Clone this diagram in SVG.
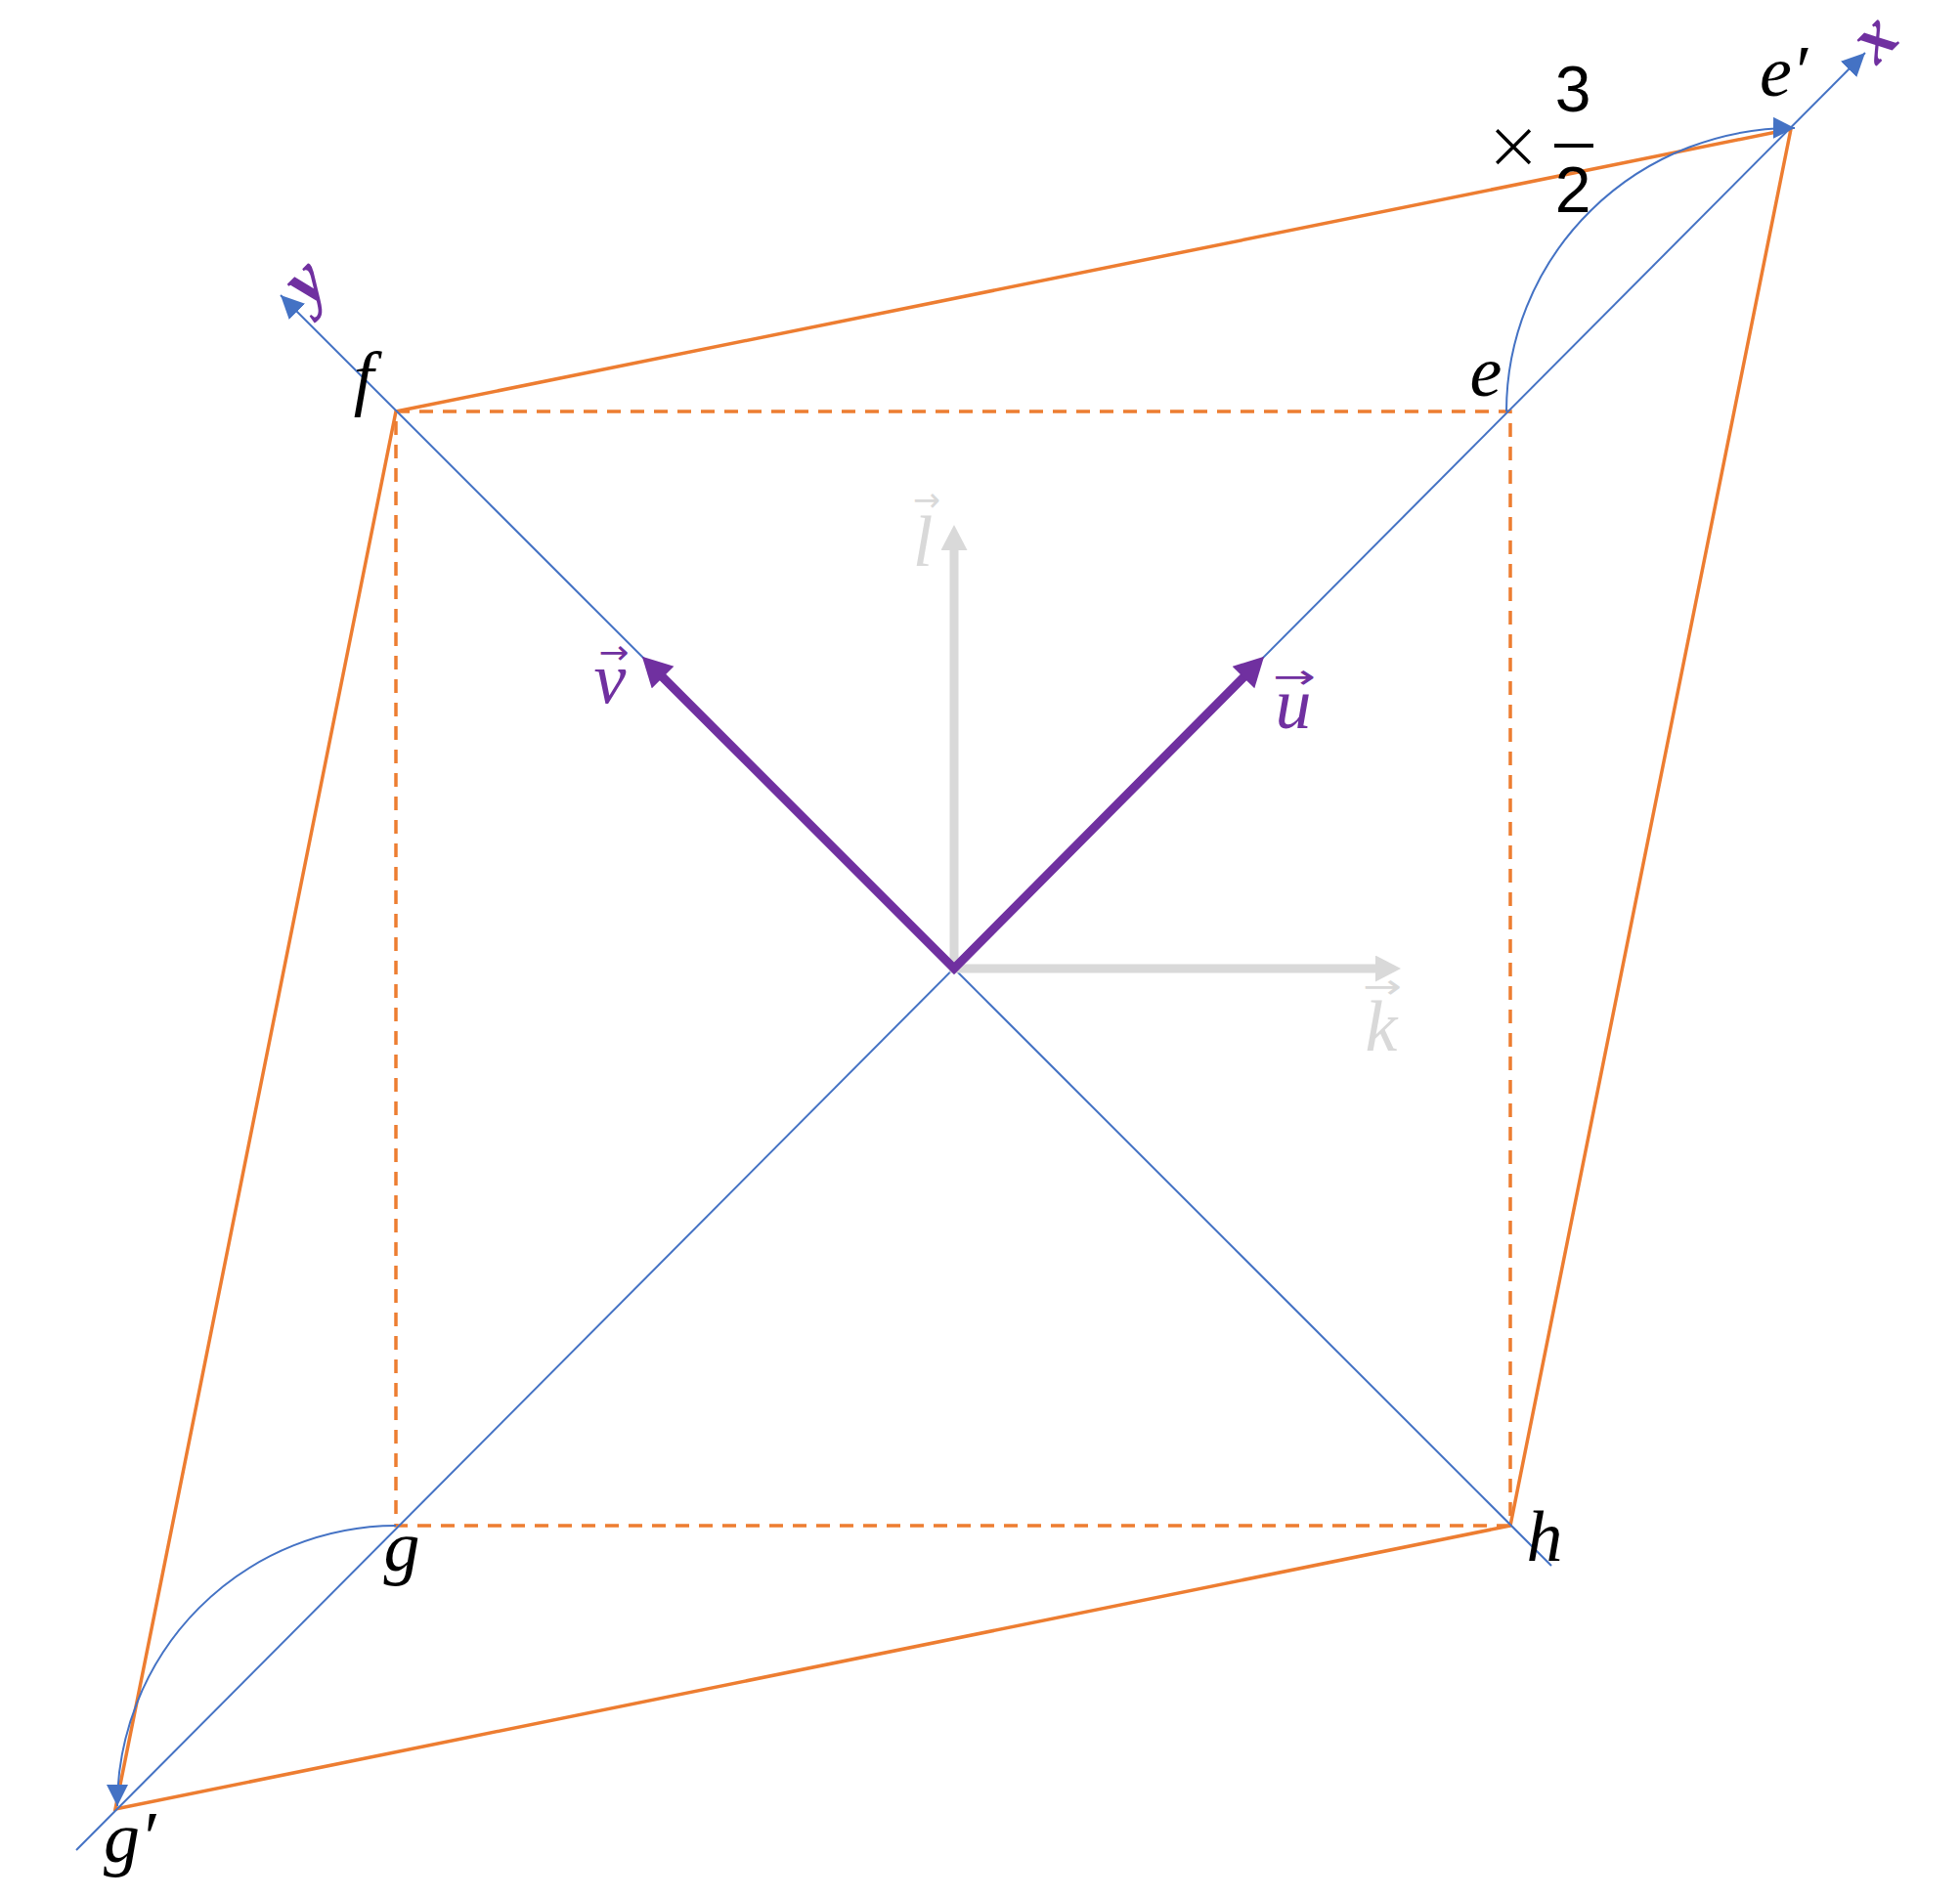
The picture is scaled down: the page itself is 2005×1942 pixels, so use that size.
<svg xmlns="http://www.w3.org/2000/svg" width="2005" height="1942" viewBox="0 0 2005 1942">
<style>
.orange{fill:none;stroke:#ED7D31;stroke-width:3.5;stroke-linejoin:miter}
.dash{fill:none;stroke:#ED7D31;stroke-width:3.5;stroke-dasharray:14 10}
.blue{fill:none;stroke:#4472C4;stroke-width:2}
.purple{fill:none;stroke:#7030A0;stroke-width:9;stroke-linejoin:miter}
.gray{fill:none;stroke:#D9D9D9;stroke-width:9;stroke-linejoin:miter}
.m{font-family:"Liberation Serif","Times New Roman",serif;font-style:italic;font-size:74px}
.ax{font-family:"Liberation Serif","Times New Roman",serif;font-style:italic;font-weight:bold;font-size:72px}
.vec{font-family:"DejaVu Sans",sans-serif;font-size:34px;text-anchor:middle}
.num{font-family:"Liberation Sans",Arial,sans-serif;font-size:66px;text-anchor:middle;fill:#000}
.times{font-family:"DejaVu Sans",sans-serif;font-weight:200;font-size:70px;text-anchor:middle;fill:#000}
</style>
<defs>
<marker id="ab" markerUnits="userSpaceOnUse" markerWidth="26" markerHeight="25" refX="24" refY="11.5" orient="auto" viewBox="0 0 26 25"><path d="M0,0 L24,11.5 L0,23 Z" fill="#4472C4"/></marker>
<marker id="aa" markerUnits="userSpaceOnUse" markerWidth="24" markerHeight="24" refX="22" refY="11" orient="auto" viewBox="0 0 24 24"><path d="M0,0 L22,11 L0,22 Z" fill="#4472C4"/></marker>
<marker id="ap" markerUnits="userSpaceOnUse" markerWidth="32" markerHeight="34" refX="10" refY="16" orient="auto" viewBox="0 0 32 34"><path d="M0,0 L30,16 L0,32 Z" fill="#7030A0"/></marker>
<marker id="aps" markerUnits="userSpaceOnUse" markerWidth="32" markerHeight="34" refX="10" refY="16" orient="auto-start-reverse" viewBox="0 0 32 34"><path d="M0,0 L30,16 L0,32 Z" fill="#7030A0"/></marker>
<marker id="ag" markerUnits="userSpaceOnUse" markerWidth="28" markerHeight="29" refX="8" refY="13.5" orient="auto" viewBox="0 0 28 29"><path d="M0,0 L26,13.5 L0,27 Z" fill="#D9D9D9"/></marker>
<marker id="ags" markerUnits="userSpaceOnUse" markerWidth="28" markerHeight="29" refX="8" refY="13.5" orient="auto-start-reverse" viewBox="0 0 28 29"><path d="M0,0 L26,13.5 L0,27 Z" fill="#D9D9D9"/></marker>
</defs>

<g id="connectors">
  <path id="square-dashed" class="dash" d="M405,421 L1545,421 L1545,1561 L405,1561 Z"/>
  <path id="parallelogram" class="orange" d="M405,421 L1832,132 L1545,1561 L118,1851 Z"/>
  <line id="axis-x" class="blue" x1="78" y1="1893" x2="1908" y2="54" marker-end="url(#ab)"/>
  <line id="axis-y" class="blue" x1="1587" y1="1602" x2="287" y2="302" marker-end="url(#ab)"/>
  <path id="arc-e" class="blue" d="M1541,421 A293,290 0 0 1 1836,131" marker-end="url(#aa)"/>
  <path id="arc-g" class="blue" d="M405,1561 A286,287 0 0 0 120,1848" marker-end="url(#aa)"/>
  <path id="basis-kl" class="gray" d="M976,555 L976,991 L1415,991" marker-start="url(#ags)" marker-end="url(#ag)"/>
  <path id="basis-uv" class="purple" d="M671,686 L976,991 L1279,686" marker-start="url(#aps)" marker-end="url(#ap)"/>
</g>

<g id="node-f"><text class="m" x="372" y="411" text-anchor="middle">f</text></g>
<g id="node-e"><text class="m" x="1520" y="405" text-anchor="middle">e</text></g>
<g id="node-e-prime"><text class="m" x="1800" y="98">e′</text></g>
<g id="node-g"><text class="m" x="411" y="1607" text-anchor="middle">g</text></g>
<g id="node-g-prime"><text class="m" x="106" y="1905">g′</text></g>
<g id="node-h"><text class="m" x="1580" y="1597" text-anchor="middle">h</text></g>

<g id="label-v" fill="#7030A0"><text class="m" x="624" y="719" text-anchor="middle">v</text><text class="vec" x="628" y="679" textLength="31" lengthAdjust="spacingAndGlyphs">→</text></g>
<g id="label-u" fill="#7030A0"><text class="m" x="1323" y="745" text-anchor="middle">u</text><text class="vec" x="1324" y="704" textLength="44" lengthAdjust="spacingAndGlyphs">→</text></g>
<g id="label-l" fill="#D9D9D9"><text class="m" x="944" y="579" text-anchor="middle">l</text><text class="vec" x="948" y="523" textLength="28" lengthAdjust="spacingAndGlyphs">→</text></g>
<g id="label-k" fill="#D9D9D9"><text class="m" x="1413" y="1075" text-anchor="middle">k</text><text class="vec" x="1414" y="1021" textLength="40" lengthAdjust="spacingAndGlyphs">→</text></g>

<g id="label-x" fill="#7030A0"><text class="ax" x="0" y="0" text-anchor="middle" transform="translate(1922,44) rotate(-45)" dy="15">x</text></g>
<g id="label-y" fill="#7030A0"><text class="ax" x="0" y="0" text-anchor="middle" transform="translate(317,293) rotate(-45)" dy="15">y</text></g>

<g id="scale-label">
  <text class="times" x="1548" y="172">×</text>
  <text class="num" x="1609" y="114">3</text>
  <line x1="1590" y1="149" x2="1630" y2="149" stroke="#000" stroke-width="4"/>
  <text class="num" x="1609" y="217">2</text>
</g>
</svg>
